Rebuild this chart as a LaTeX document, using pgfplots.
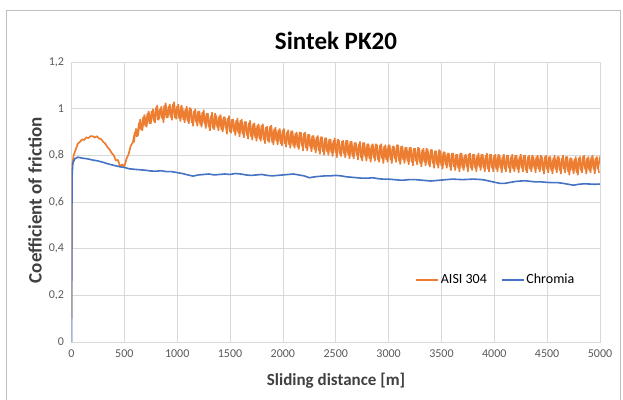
\documentclass[border=0pt]{standalone}
\usepackage{fontspec}
\setmainfont{Carlito}
\usepackage{pgfplots}
\pgfplotsset{compat=1.18}
\definecolor{cOrange}{HTML}{ED7D31}
\definecolor{cBlue}{HTML}{4472C4}
\definecolor{cGrid}{HTML}{D9D9D9}
\definecolor{cTick}{HTML}{595959}
\definecolor{cLab}{HTML}{404040}
\begin{document}
\begin{tikzpicture}[x=1pt,y=1pt]
\useasboundingbox (0,0) rectangle (623,399);
\draw[color=gray!50, line width=0.8pt] (6.5,-2) -- (6.5,388.5) -- (620.5,388.5) -- (620.5,-2);
\begin{axis}[
  at={(71.5pt,57pt)}, anchor=south west,
  scale only axis, width=528.5pt, height=280pt,
  xmin=0, xmax=5000, ymin=0, ymax=1.2,
  xtick={0,500,1000,1500,2000,2500,3000,3500,4000,4500,5000},
  ytick={0,0.2,0.4,0.6,0.8,1,1.2},
  grid=major, major grid style={cGrid, line width=0.8pt},
  axis line style={cGrid, line width=0.8pt},
  tick style={draw=none},
  ticklabel style={font=\fontsize{12}{14}\selectfont, text=cTick},
  /pgf/number format/assume math mode=true,
  /pgf/number format/use comma, /pgf/number format/1000 sep={},
  scaled ticks=false,
  xticklabel style={yshift=-4pt}, yticklabel style={xshift=-4pt},
  legend style={at={(0.803,0.222)}, anchor=center, draw=none, fill=none,
    font=\fontsize{14}{16}\selectfont, text=black, legend columns=2,
    /tikz/every even column/.append style={column sep=12pt}},
  legend image code/.code={\draw[#1, line width=1.5pt] (0pt,0pt) -- (22pt,0pt);},
]
\addplot[cOrange, line width=1.7pt, line join=miter, miter limit=1] coordinates {
(0,0.10)(3,0.74)(20,0.80)(40,0.825)(60,0.85)(80,0.858)(100,0.868)(120,0.866)(140,0.877)(160,0.874)(180,0.882)
(200,0.882)(220,0.876)(240,0.882)(260,0.872)(280,0.870)(300,0.858)(320,0.85)(340,0.835)(360,0.825)(380,0.81)
(400,0.80)(420,0.778)(440,0.78)(460,0.75)(480,0.762)(500,0.752)(520,0.785)(540,0.805)(560,0.84)(580,0.855)
(600,0.90)(620,0.88)(640,0.94)(660,0.91)(680,0.965)(700,0.925)(720,0.98)(740,0.935)(760,0.99)(780,0.945)
(800,1.005)(820,0.95)(840,1.0)(860,0.955)(880,1.015)(900,0.96)(920,1.01)(940,0.962)(960,1.02)(980,0.96)
(1000,1.01)(1020,0.958)(1040,1.015)(1060,0.952)(1080,1.0)(1100,0.945)(1120,1.005)(1140,0.94)(1160,0.99)(1180,0.942)
(1200,0.99)(1220,0.93)(1240,0.985)(1260,0.935)(1280,0.98)(1300,0.92)(1320,0.97)(1340,0.915)(1360,0.98)(1380,0.92)
(1400,0.97)(1420,0.91)(1440,0.965)(1460,0.915)(1480,0.96)(1500,0.90)(1520,0.955)(1540,0.90)(1560,0.95)(1580,0.895)
(1600,0.95)(1620,0.89)(1640,0.945)(1660,0.885)(1680,0.94)(1700,0.88)(1720,0.935)(1740,0.875)(1760,0.93)(1780,0.87)
(1800,0.93)(1820,0.865)(1840,0.92)(1860,0.86)(1880,0.925)(1900,0.855)(1920,0.915)(1940,0.86)(1960,0.91)(1980,0.85)
(2000,0.91)(2020,0.85)(2040,0.90)(2060,0.845)(2080,0.905)(2100,0.84)(2120,0.895)(2140,0.835)(2160,0.90)(2180,0.84)
(2200,0.895)(2220,0.83)(2240,0.89)(2260,0.835)(2280,0.885)(2300,0.825)(2320,0.88)(2340,0.82)(2360,0.88)(2380,0.815)
(2400,0.875)(2420,0.815)(2440,0.87)(2460,0.81)(2480,0.865)(2500,0.81)(2520,0.87)(2540,0.805)(2560,0.86)(2580,0.805)
(2600,0.865)(2620,0.80)(2640,0.86)(2660,0.795)(2680,0.855)(2700,0.80)(2720,0.85)(2740,0.79)(2760,0.855)(2780,0.795)
(2800,0.85)(2820,0.785)(2840,0.845)(2860,0.79)(2880,0.85)(2900,0.78)(2920,0.845)(2940,0.785)(2960,0.84)(2980,0.78)
(3000,0.845)(3020,0.78)(3040,0.84)(3060,0.785)(3080,0.845)(3100,0.775)(3120,0.84)(3140,0.78)(3160,0.835)(3180,0.775)
(3200,0.835)(3220,0.77)(3240,0.83)(3260,0.775)(3280,0.835)(3300,0.765)(3320,0.825)(3340,0.77)(3360,0.83)(3380,0.76)
(3400,0.825)(3420,0.765)(3440,0.82)(3460,0.76)(3480,0.825)(3500,0.755)(3520,0.815)(3540,0.76)(3560,0.81)(3580,0.75)
(3600,0.81)(3620,0.75)(3640,0.805)(3660,0.745)(3680,0.81)(3700,0.745)(3720,0.80)(3740,0.75)(3760,0.805)(3780,0.745)
(3800,0.805)(3820,0.745)(3840,0.80)(3860,0.75)(3880,0.805)(3900,0.745)(3920,0.80)(3940,0.74)(3960,0.805)(3980,0.745)
(4000,0.80)(4020,0.74)(4040,0.805)(4060,0.745)(4080,0.795)(4100,0.74)(4120,0.80)(4140,0.745)(4160,0.795)(4180,0.74)
(4200,0.80)(4220,0.74)(4240,0.795)(4260,0.745)(4280,0.80)(4300,0.735)(4320,0.795)(4340,0.74)(4360,0.80)(4380,0.745)
(4400,0.795)(4420,0.74)(4440,0.80)(4460,0.735)(4480,0.795)(4500,0.74)(4520,0.795)(4540,0.735)(4560,0.79)(4580,0.74)
(4600,0.795)(4620,0.735)(4640,0.79)(4660,0.74)(4680,0.795)(4700,0.73)(4720,0.79)(4740,0.735)(4760,0.785)(4780,0.725)
(4800,0.79)(4820,0.735)(4840,0.795)(4860,0.74)(4880,0.79)(4900,0.735)(4920,0.795)(4940,0.74)(4960,0.79)(4980,0.74)
(5000,0.795)
};
\addlegendentry{AISI 304}
\addplot[cOrange, line width=1.5pt, line join=miter, miter limit=1, forget plot] coordinates {
(590,0.855)(610,0.915)(630,0.885)(650,0.955)(670,0.905)(690,0.975)(710,0.92)(730,0.99)(750,0.935)(770,1.0)
(790,0.94)(810,1.015)(830,0.955)(850,1.01)(870,0.94)(890,1.025)(910,0.96)(930,1.02)(950,0.95)(970,1.03)
(990,0.955)(1010,1.02)(1030,0.945)(1050,1.005)(1070,0.94)(1090,1.01)(1110,0.935)(1130,1.0)(1150,0.925)(1170,1.0)
(1190,0.925)(1210,0.99)(1230,0.92)(1250,0.995)(1270,0.915)(1290,0.98)(1310,0.905)(1330,0.985)(1350,0.91)(1370,0.97)
(1390,0.905)(1410,0.975)(1430,0.90)(1450,0.965)(1470,0.89)(1490,0.97)(1510,0.895)(1530,0.955)(1550,0.885)(1570,0.96)
(1590,0.88)(1610,0.955)(1630,0.875)(1650,0.945)(1670,0.87)(1690,0.95)(1710,0.865)(1730,0.94)(1750,0.86)(1770,0.935)
(1790,0.86)(1810,0.935)(1830,0.85)(1850,0.925)(1870,0.855)(1890,0.93)(1910,0.845)(1930,0.92)(1950,0.845)(1970,0.915)
(1990,0.84)(2010,0.915)(2030,0.835)(2050,0.91)(2070,0.83)(2090,0.905)(2110,0.83)(2130,0.90)(2150,0.825)(2170,0.90)
(2190,0.82)(2210,0.90)(2230,0.82)(2250,0.89)(2270,0.815)(2290,0.885)(2310,0.81)(2330,0.885)(2350,0.805)(2370,0.88)
(2390,0.80)(2410,0.875)(2430,0.80)(2450,0.87)(2470,0.795)(2490,0.875)(2510,0.79)(2530,0.865)(2550,0.795)(2570,0.865)
(2590,0.79)(2610,0.865)(2630,0.785)(2650,0.86)(2670,0.785)(2690,0.855)(2710,0.78)(2730,0.86)(2750,0.775)(2770,0.855)
(2790,0.775)(2810,0.85)(2830,0.77)(2850,0.85)(2870,0.775)(2890,0.845)(2910,0.77)(2930,0.85)(2950,0.765)(2970,0.845)
(2990,0.77)(3010,0.845)(3030,0.765)(3050,0.84)(3070,0.77)(3090,0.845)(3110,0.76)(3130,0.84)(3150,0.765)(3170,0.835)
(3190,0.76)(3210,0.835)(3230,0.755)(3250,0.83)(3270,0.76)(3290,0.83)(3310,0.75)(3330,0.83)(3350,0.755)(3370,0.825)
(3390,0.75)(3410,0.825)(3430,0.745)(3450,0.82)(3470,0.745)(3490,0.82)(3510,0.74)(3530,0.815)(3550,0.745)(3570,0.81)
(3590,0.735)(3610,0.81)(3630,0.735)(3650,0.805)(3670,0.73)(3690,0.81)(3710,0.735)(3730,0.805)(3750,0.73)(3770,0.81)
(3790,0.735)(3810,0.805)(3830,0.73)(3850,0.81)(3870,0.735)(3890,0.805)(3910,0.73)(3930,0.81)(3950,0.73)(3970,0.805)
(3990,0.73)(4010,0.805)(4030,0.73)(4050,0.80)(4070,0.725)(4090,0.805)(4110,0.73)(4130,0.80)(4150,0.725)(4170,0.805)
(4190,0.73)(4210,0.80)(4230,0.725)(4250,0.805)(4270,0.73)(4290,0.80)(4310,0.725)(4330,0.80)(4350,0.73)(4370,0.795)
(4390,0.725)(4410,0.80)(4430,0.73)(4450,0.795)(4470,0.72)(4490,0.80)(4510,0.725)(4530,0.795)(4550,0.72)(4570,0.80)
(4590,0.725)(4610,0.795)(4630,0.72)(4650,0.80)(4670,0.725)(4690,0.795)(4710,0.715)(4730,0.79)(4750,0.72)(4770,0.795)
(4790,0.715)(4810,0.795)(4830,0.725)(4850,0.80)(4870,0.72)(4890,0.795)(4910,0.725)(4930,0.80)(4950,0.72)(4970,0.795)
(4990,0.725)
};
\addplot[cBlue, line width=1.6pt] coordinates {
(0,0)(5,0.70)(12,0.765)(30,0.785)(60,0.792)(100,0.788)(150,0.785)(200,0.78)(250,0.776)(300,0.77)(350,0.763)
(400,0.757)(450,0.752)(500,0.748)(550,0.742)(600,0.74)(650,0.738)(700,0.736)(750,0.733)(800,0.732)(850,0.734)
(900,0.73)(950,0.73)(1000,0.726)(1050,0.722)(1100,0.716)(1150,0.711)(1200,0.716)(1250,0.718)(1300,0.72)(1350,0.716)
(1400,0.718)(1450,0.72)(1500,0.718)(1550,0.722)(1600,0.72)(1650,0.716)(1700,0.714)(1750,0.716)(1800,0.718)(1850,0.714)
(1900,0.712)(1950,0.714)(2000,0.716)(2050,0.718)(2100,0.72)(2150,0.716)(2200,0.712)(2250,0.704)(2300,0.708)(2350,0.71)
(2400,0.712)(2450,0.712)(2500,0.714)(2550,0.712)(2600,0.708)(2650,0.706)(2700,0.704)(2750,0.702)(2800,0.702)(2850,0.704)
(2900,0.70)(2950,0.698)(3000,0.698)(3050,0.696)(3100,0.694)(3150,0.694)(3200,0.696)(3250,0.696)(3300,0.694)(3350,0.692)
(3400,0.69)(3450,0.692)(3500,0.694)(3550,0.696)(3600,0.698)(3650,0.697)(3700,0.696)(3750,0.697)(3800,0.698)(3850,0.697)
(3900,0.695)(3950,0.69)(4000,0.685)(4050,0.68)(4100,0.68)(4150,0.684)(4200,0.688)(4250,0.69)(4300,0.691)(4350,0.688)
(4400,0.686)(4450,0.686)(4500,0.684)(4550,0.683)(4600,0.683)(4650,0.68)(4700,0.676)(4750,0.672)(4800,0.676)(4850,0.678)
(4900,0.677)(4950,0.676)(5000,0.677)
};
\addlegendentry{Chromia}
\end{axis}
\node[font=\fontsize{25}{30}\selectfont\bfseries, text=black] at (336,358) {Sintek PK20};
\node[font=\fontsize{17}{20}\selectfont\bfseries, text=cLab] at (336,18) {Sliding distance [m]};
\node[font=\fontsize{19}{22}\selectfont\bfseries, text=cLab, rotate=90] at (35,199) {Coefficient of friction};
\end{tikzpicture}
\end{document}
